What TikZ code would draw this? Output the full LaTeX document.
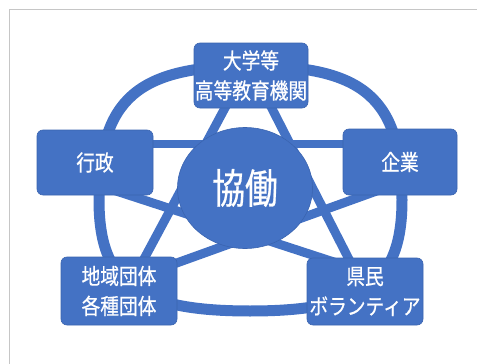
\documentclass[tikz,border=0pt]{standalone}
\usepackage{fontspec}
\newfontfamily\jpfont[FakeStretch=0.85,FakeBold=0.6]{Noto Sans CJK JP}
\newfontfamily\jpbigfont[FakeStretch=0.8,FakeBold=0.6]{Noto Sans CJK JP}
\usetikzlibrary{shapes.geometric,backgrounds,calc}
\definecolor{kblue}{HTML}{4472C4}
\definecolor{kedge}{HTML}{3A64B0}
\definecolor{kframe}{HTML}{C6C6C6}

\begin{document}
\begin{tikzpicture}[ x=1pt, y=-1pt,
    waku/.style={rectangle, rounded corners=6pt, fill=kblue, draw=kedge,
        line width=0.6pt, text=white, align=center, inner sep=0pt,
        font=\jpfont\fontsize{22}{30}\selectfont},
    kyodo/.style={ellipse, fill=kblue, draw=kedge, line width=0.6pt,
        minimum width=135pt, minimum height=121pt, inner sep=0pt,
        text=white, font=\jpbigfont\fontsize{41}{41}\selectfont},
    sen/.style={kblue, line width=9pt} ]

    \useasboundingbox (0,0) rectangle (477,364);

% Khung

    \draw[kframe, line width=1.5pt] (477,9.5) -- (9.5,9.5) -- (9.5,364);

% Hop

    \node[waku, minimum width=114pt, minimum height=65pt] (daigaku) at (251,75.5) {大学等\\高等教育機関};
    \node[waku, minimum width=116pt, minimum height=65pt] (gyosei) at (95,162.5) {\raisebox{-3pt}{行政}};
    \node[waku, minimum width=114pt, minimum height=66pt] (kigyo) at (400,162) {\raisebox{-3pt}{企業}};
    \node[waku, minimum width=116pt, minimum height=68pt] (chiiki) at (119,291) {地域団体\\各種団体};
    \node[waku, minimum width=116pt, minimum height=67pt] (kenmin) at (365,291.5) {県民\\ボランティア};

% Tam

    \node[kyodo] (center) at (245,188) {\raisebox{-4pt}{協働}};

% Vong va ngoi sao

    \begin{scope}[on background layer]
    \draw[kblue, line width=11pt] (251,66) .. controls (137,66) and (99,99.5) .. (99,200)
        .. controls (99,283) and (137,311) .. (250,311)
        .. controls (364,311) and (402,283) .. (402,200)
        .. controls (402,99.5) and (365,66) .. (251,66) -- cycle;

    \draw[sen] ($(daigaku)+(-18,17.5)$) -- ($(chiiki)+(18,-19)$);
    \draw[sen] ($(daigaku)+(13,17.5)$) -- ($(kenmin)+(-9,-18.5)$);
    \draw[sen, line width=8pt] ($(gyosei)+(40,-18.5)$) -- ($(kigyo)+(-40,-18)$);
    \draw[sen] ($(gyosei)+(15,26.5)$) -- ($(kenmin)+(-25,-27.5)$);
    \draw[sen] ($(kigyo)+(-15,26)$) -- ($(chiiki)+(41,-22)$);
    \end{scope}

\end{tikzpicture}
\end{document}
